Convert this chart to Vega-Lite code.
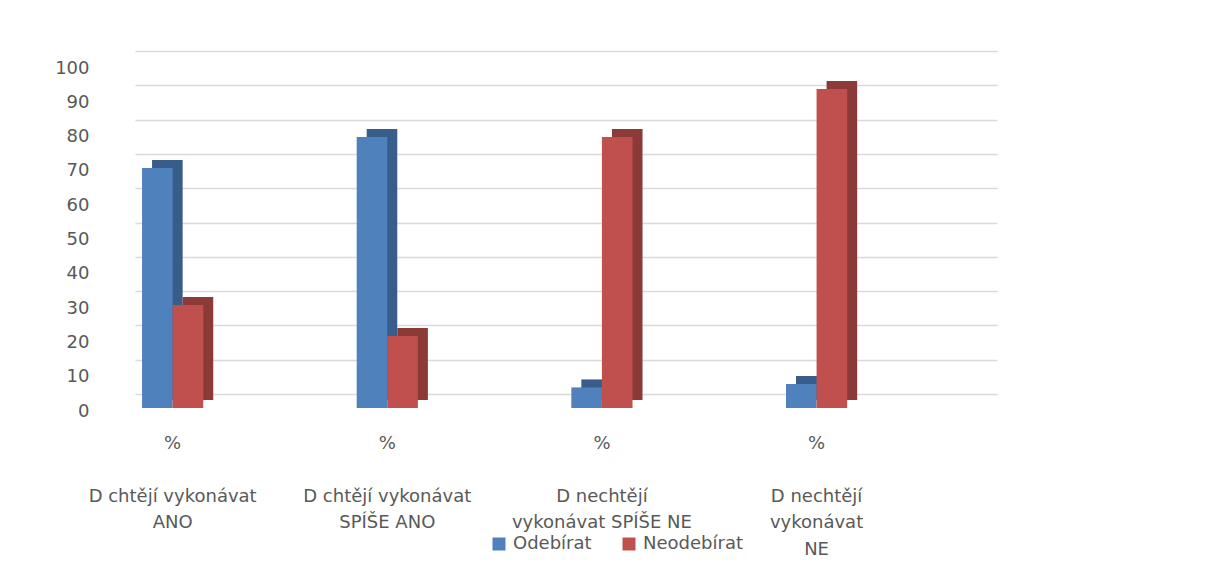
{
  "$schema": "https://vega.github.io/schema/vega-lite/v6.json",
  "width": 862,
  "height": 343,
  "autosize": {"type": "none"},
  "padding": {"left": 135, "top": 51, "right": 214, "bottom": 181},
  "background": "white",
  "config": {
    "view": {"stroke": null},
    "font": "DejaVu Sans",
    "axis": {"labelFont": "DejaVu Sans", "labelColor": "#595959", "labelFontSize": 18},
    "legend": {"labelFont": "DejaVu Sans", "labelColor": "#595959", "labelFontSize": 18}
  },
  "data": {
    "values": [
      {"cat": "%|\u2800|D chtějí vykonávat|ANO", "series": "Odebírat", "value": 70},
      {"cat": "%|\u2800|D chtějí vykonávat|ANO", "series": "Neodebírat", "value": 30},
      {"cat": "%|\u2800|D chtějí vykonávat|SPÍŠE ANO", "series": "Odebírat", "value": 79},
      {"cat": "%|\u2800|D chtějí vykonávat|SPÍŠE ANO", "series": "Neodebírat", "value": 21},
      {"cat": "%|\u2800|D nechtějí|vykonávat  SPÍŠE NE", "series": "Odebírat", "value": 6},
      {"cat": "%|\u2800|D nechtějí|vykonávat  SPÍŠE NE", "series": "Neodebírat", "value": 79},
      {"cat": "%|\u2800|D nechtějí|vykonávat|NE", "series": "Odebírat", "value": 7},
      {"cat": "%|\u2800|D nechtějí|vykonávat|NE", "series": "Neodebírat", "value": 93}
    ]
  },
  "encoding": {
    "x": {
      "field": "cat",
      "type": "nominal",
      "sort": null,
      "title": null,
      "scale": {"paddingInner": 0.715, "paddingOuter": 0.3655, "align": 0.045},
      "axis": {
        "labelExpr": "split(datum.value, '|')",
        "labelAngle": 0,
        "labelLineHeight": 26.5,
        "labelPadding": 40,
        "labelLimit": 0,
        "labelBaseline": "top",
        "domain": false,
        "ticks": false,
        "grid": false
      }
    },
    "y": {
      "field": "value",
      "type": "quantitative",
      "title": null,
      "scale": {"domain": [0, 100], "nice": false},
      "axis": {
        "values": [0, 10, 20, 30, 40, 50, 60, 70, 80, 90, 100],
        "grid": true,
        "gridColor": "#D9D9D9",
        "gridWidth": 1.5,
        "domain": false,
        "ticks": false,
        "labelPadding": 46,
        "labelOffset": 17
      }
    }
  },
  "layer": [
    {
      "transform": [{"filter": "datum.series == 'Odebírat'"}],
      "mark": {"type": "bar", "width": 30.6, "xOffset": -5.3, "yOffset": 6, "y2Offset": 6, "color": "#385D8A"}
    },
    {
      "transform": [{"filter": "datum.series == 'Odebírat'"}],
      "mark": {"type": "bar", "width": 30.6, "xOffset": -15.3, "yOffset": 14, "y2Offset": 14},
      "encoding": {
        "color": {
          "field": "series",
          "type": "nominal",
          "scale": {"domain": ["Odebírat", "Neodebírat"], "range": ["#4F81BD", "#C0504D"]},
          "legend": {
            "title": null,
            "orient": "none",
            "direction": "horizontal",
            "legendX": 355,
            "legendY": 484,
            "symbolType": "square",
            "symbolSize": 169,
            "symbolStrokeWidth": 0,
            "labelOffset": 5,
            "columnPadding": 28,
            "padding": 0
          }
        }
      }
    },
    {
      "transform": [{"filter": "datum.series == 'Neodebírat'"}],
      "mark": {"type": "bar", "width": 30.6, "xOffset": 25.3, "yOffset": 6, "y2Offset": 6, "color": "#8C3A38"}
    },
    {
      "transform": [{"filter": "datum.series == 'Neodebírat'"}],
      "mark": {"type": "bar", "width": 30.6, "xOffset": 15.3, "yOffset": 14, "y2Offset": 14},
      "encoding": {
        "color": {
          "field": "series",
          "type": "nominal",
          "scale": {"domain": ["Odebírat", "Neodebírat"], "range": ["#4F81BD", "#C0504D"]}
        }
      }
    }
  ]
}
